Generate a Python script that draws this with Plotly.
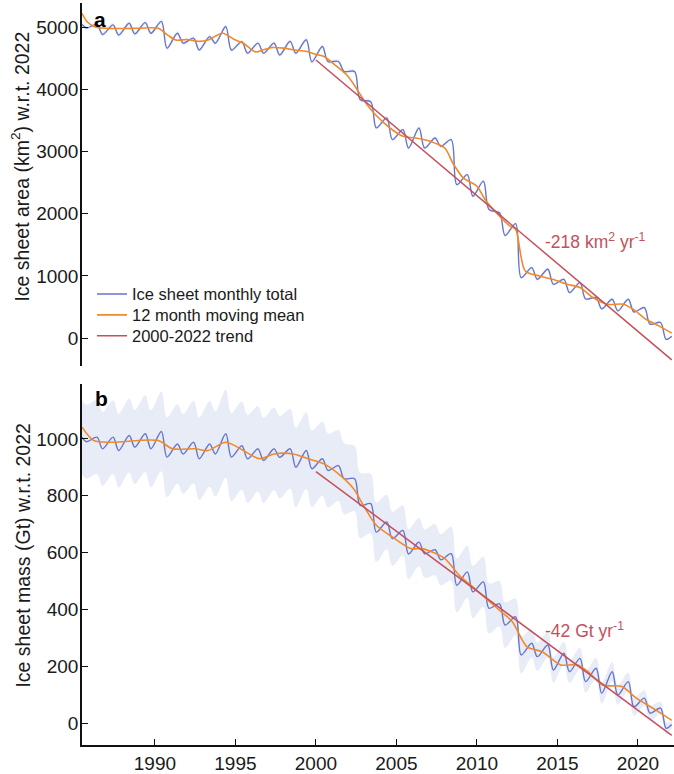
import plotly.graph_objects as go

# ---------------- data ----------------
years = list(range(1986, 2022))  # seasonal cycle: peak ~Y+0.4, trough ~Y+0.75

# Panel a: ice sheet area (km^2) w.r.t. 2022
area_head_t = [1985.47, 1985.75]
area_head_v = [5040, 4985]
area_peak = [5040, 5035, 5060, 5070, 5090, 4900, 4820, 4846, 5007, 4765,
             4740, 4740, 4770, 4795, 4686, 4446, 4285, 3800, 3540, 3350,
             3377, 3216, 3190, 2628, 2522, 2014, 1840, 1132, 1106, 945,
             892, 652, 625, 625, 491, 251]
area_trough = [4880, 4870, 4890, 4900, 4660, 4740, 4630, 4740, 4630, 4580,
               4580, 4550, 4580, 4440, 4446, 4285, 3831, 3380, 3190, 3056,
               3056, 3082, 2468, 2281, 2067, 1650, 972, 945, 865, 732,
               630, 470, 438, 420, 224, -20]
area_tail_t = [2022.1]
area_tail_v = [30]
area_unc = [40, 40, 40, 40, 40, 38, 38, 38, 38, 36, 36, 36, 35, 35, 35, 34,
            34, 33, 33, 32, 32, 31, 31, 30, 30, 29, 28, 27, 26, 25, 24, 23,
            22, 21, 20, 18]

area_mean_t = [1985.47, 1985.8, 1986.3, 1987.0, 1988.0, 1989.0, 1990.2, 1990.8,
               1991.3, 1992.0, 1992.7, 1993.3, 1994.2, 1995.0, 1995.5, 1996.25,
               1996.8, 1997.3, 1998.0, 1998.7, 1999.4, 2000.0, 2000.5, 2001.3,
               2002.0, 2002.7, 2003.1, 2003.7, 2004.6, 2005.4, 2006.2, 2007.1,
               2008.0, 2008.5, 2009.15, 2010.0, 2010.5, 2011.2, 2012.05, 2012.4,
               2013.0, 2013.9, 2014.7, 2015.6, 2016.4, 2017.2, 2018.1, 2019.1,
               2019.7, 2020.5, 2021.3, 2022.1]
area_mean_v = [5220, 5080, 5000, 4980, 4975, 4980, 4980, 4870,
               4790, 4800, 4770, 4790, 4900, 4790, 4740, 4600,
               4640, 4670, 4660, 4630, 4610, 4560, 4526, 4366,
               4205, 3938, 3777, 3590, 3377, 3243, 3216, 3163,
               3056, 2815, 2575, 2441, 2228, 2014, 1800, 1750,
               1079, 998, 945, 865, 812, 652, 545, 545,
               465, 304, 197, 80]

area_trend_t = [2000.0, 2022.1]
area_trend_v = [4470, -350]

# Panel b: ice sheet mass (Gt) w.r.t. 2022
mass_head_t = [1985.47, 1985.75]
mass_head_v = [1006, 990]
mass_peak = [1006, 1006, 1012, 1018, 1026, 982, 988, 982, 1018, 976,
             965, 965, 965, 959, 930, 906, 860, 772, 708, 678,
             637, 610, 596, 532, 497, 420, 374, 281, 275, 246,
             228, 193, 181, 146, 88, 53]
mass_trough = [965, 959, 971, 965, 936, 947, 930, 947, 936, 930,
               924, 935, 900, 895, 889, 860, 766, 672, 649, 595,
               596, 575, 485, 462, 404, 345, 240, 234, 187, 181,
               146, 105, 99, 58, 35, -18]
mass_tail_t = [2022.1]
mass_tail_v = [-5]
mass_unc = [130, 130, 130, 135, 140, 140, 145, 150, 155, 155,
            150, 145, 140, 135, 130, 125, 115, 105, 95, 88,
            85, 90, 95, 92, 88, 80, 65, 50, 45, 40,
            38, 36, 34, 32, 28, 22]
mass_head_unc = [130, 130]
mass_tail_unc = [12]

mass_mean_t = [1985.47, 1986.2, 1987.3, 1990.2, 1991.1, 1992.5, 1993.3, 1994.4,
               1995.5, 1996.5, 1997.4, 1998.6, 1999.5, 2000.5, 2001.4, 2002.35,
               2002.95, 2003.75, 2004.9, 2005.9, 2006.6, 2008.0, 2008.9, 2009.85,
               2010.8, 2011.5, 2012.2, 2013.1, 2014.05, 2015.2, 2016.2, 2016.9,
               2017.8, 2019.0, 2019.9, 2021.1, 2022.1]
mass_mean_v = [1041, 994, 988, 994, 965, 965, 959, 988,
               959, 930, 947, 947, 930, 912, 877, 824,
               766, 696, 649, 614, 614, 579, 520, 474,
               427, 392, 357, 269, 251, 205, 205, 181,
               134, 129, 88, 47, 10]

mass_trend_t = [2000.0, 2022.1]
mass_trend_v = [885, -43]

x_ticks = [1990, 1995, 2000, 2005, 2010, 2015, 2020]
area_ticks = [0, 1000, 2000, 3000, 4000, 5000]
mass_ticks = [0, 200, 400, 600, 800, 1000]

# ---------------- build series ----------------
def monthly(head_t, head_v, peaks, troughs, tail_t, tail_v):
    t = list(head_t)
    v = list(head_v)
    for y, p, q in zip(years, peaks, troughs):
        t += [y + 0.4, y + 0.75]
        v += [p, q]
    return t + list(tail_t), v + list(tail_v)

def unc_list(head, per_year, tail):
    u = list(head)
    for w in per_year:
        u += [w, w]
    return u + list(tail)

a_t, a_v = monthly(area_head_t, area_head_v, area_peak, area_trough, area_tail_t, area_tail_v)
a_u = unc_list([40, 40], area_unc, [15])
m_t, m_v = monthly(mass_head_t, mass_head_v, mass_peak, mass_trough, mass_tail_t, mass_tail_v)
m_u = unc_list(mass_head_unc, mass_unc, mass_tail_unc)

BLUE = "#6674cc"
ORANGE = "#f0892a"
RED = "#c64f5c"
BAND = "rgba(120,140,210,0.17)"
FONT = "Liberation Sans, Arial, Helvetica, sans-serif"
TXT = "#1a1a1a"

fig = go.Figure()

def add_panel(t, v, u, mt, mv, tt, tv, xa, ya, legend, band_col):
    up = [a + b for a, b in zip(v, u)]
    lo = [a - b for a, b in zip(v, u)]
    fig.add_trace(go.Scatter(x=t, y=up, mode="lines", line=dict(width=0, shape="spline"),
                             hoverinfo="skip", showlegend=False, xaxis=xa, yaxis=ya))
    fig.add_trace(go.Scatter(x=t, y=lo, mode="lines", line=dict(width=0, shape="spline"),
                             fill="tonexty", fillcolor=band_col, hoverinfo="skip",
                             showlegend=False, xaxis=xa, yaxis=ya))
    fig.add_trace(go.Scatter(x=t, y=v, mode="lines", name="Ice sheet monthly total",
                             line=dict(color=BLUE, width=1.4, shape="spline", smoothing=0.9),
                             showlegend=legend, legend="legend", xaxis=xa, yaxis=ya))
    fig.add_trace(go.Scatter(x=mt, y=mv, mode="lines", name="12 month moving mean",
                             line=dict(color=ORANGE, width=1.6, shape="spline", smoothing=0.8),
                             showlegend=legend, legend="legend2", xaxis=xa, yaxis=ya))
    fig.add_trace(go.Scatter(x=tt, y=tv, mode="lines", name="2000-2022 trend",
                             line=dict(color=RED, width=1.5),
                             showlegend=legend, legend="legend3", xaxis=xa, yaxis=ya))

add_panel(a_t, a_v, a_u, area_mean_t, area_mean_v, area_trend_t, area_trend_v,
          "x", "y", True, "rgba(120,140,210,0.10)")
add_panel(m_t, m_v, m_u, mass_mean_t, mass_mean_v, mass_trend_t, mass_trend_v,
          "x2", "y2", False, BAND)

xdom = [82 / 674, 1.0]
xr = [1985.47, 2022.24]
TICKFONT = dict(family=FONT, size=19, color=TXT)
common_y = dict(showline=True, linecolor="#111", linewidth=1.5, ticks="inside",
                ticklen=6, tickcolor="#111", tickwidth=1.3, showgrid=False,
                zeroline=False, tickfont=TICKFONT, ticklabelstandoff=-2)

LEGFONT = dict(family=FONT, size=16.5, color=TXT)

def leg(ypix):
    return dict(x=92 / 674, y=1 - ypix / 774, xanchor="left", yanchor="middle",
                bgcolor="rgba(0,0,0,0)", font=LEGFONT, itemwidth=30,
                borderwidth=0)

fig.update_layout(
    width=674, height=774,
    margin=dict(l=0, r=0, t=0, b=0),
    paper_bgcolor="white", plot_bgcolor="white",
    font=dict(family=FONT, color=TXT),
    xaxis=dict(domain=xdom, range=xr, anchor="y", showline=False, showticklabels=False,
               ticks="", showgrid=False, zeroline=False),
    yaxis=dict(domain=[1 - 367 / 774, 1 - 3 / 774], range=[-449, 5386],
               tickvals=area_ticks, anchor="x", **common_y),
    xaxis2=dict(domain=xdom, range=xr, anchor="y2", showline=True, linecolor="#111",
                linewidth=1.5, ticks="inside", ticklen=6, tickcolor="#111", tickwidth=1.3,
                tickvals=x_ticks, showgrid=False, zeroline=False, tickfont=TICKFONT),
    yaxis2=dict(domain=[1 - 747 / 774, 1 - 385 / 774], range=[-77, 1193],
                tickvals=mass_ticks, anchor="x2", **common_y),
    legend=leg(295),
    legend2=leg(316),
    legend3=leg(337),
    showlegend=True,
)

annots = [
    dict(text="Ice sheet area (km<sup>2</sup>) w.r.t. 2022", xref="paper", yref="paper",
         x=20 / 674, y=1 - 167 / 774, textangle=-90, showarrow=False,
         font=dict(family=FONT, size=19.5, color=TXT), xanchor="center", yanchor="middle"),
    dict(text="Ice sheet mass (Gt) w.r.t. 2022", xref="paper", yref="paper",
         x=23 / 674, y=1 - 557 / 774, textangle=-90, showarrow=False,
         font=dict(family=FONT, size=19.5, color=TXT), xanchor="center", yanchor="middle"),
    dict(text="<b>a</b>", xref="paper", yref="paper", x=100 / 674, y=1 - 20 / 774,
         showarrow=False, font=dict(family=FONT, size=21, color="#000"),
         xanchor="center", yanchor="middle"),
    dict(text="<b>b</b>", xref="paper", yref="paper", x=101 / 674, y=1 - 400 / 774,
         showarrow=False, font=dict(family=FONT, size=21, color="#000"),
         xanchor="center", yanchor="middle"),
    dict(text="-218 km<sup>2</sup> yr<sup>-1</sup>", xref="x", yref="y", x=2014.1, y=1555,
         showarrow=False, font=dict(family=FONT, size=17.5, color=RED),
         xanchor="left", yanchor="middle"),
    dict(text="-42 Gt yr<sup>-1</sup>", xref="x2", yref="y2", x=2014.1, y=326,
         showarrow=False, font=dict(family=FONT, size=17.5, color=RED),
         xanchor="left", yanchor="middle"),
]
fig.update_layout(annotations=annots)

fig.write_html("out.html")
